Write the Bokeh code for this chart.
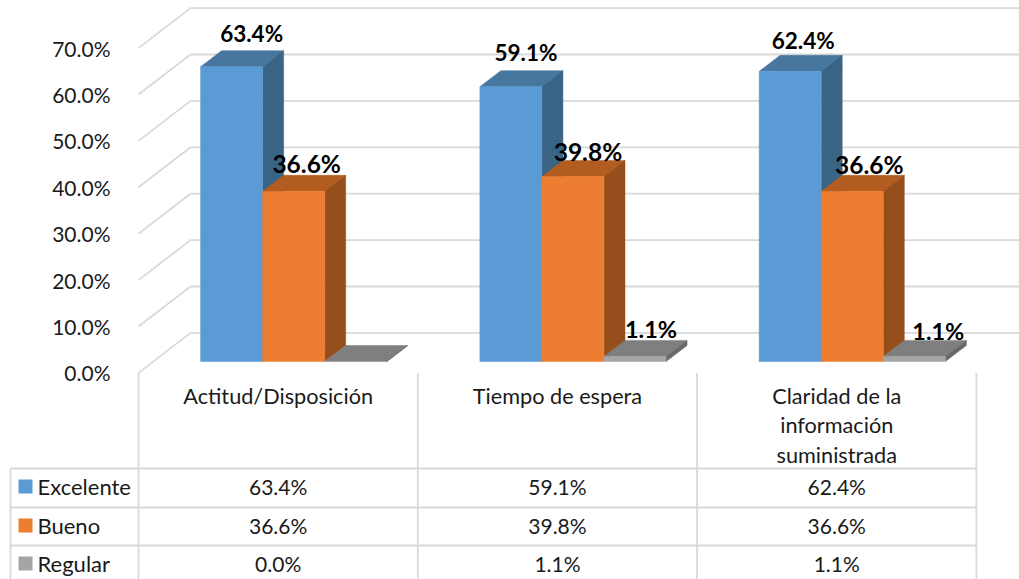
from bokeh.plotting import figure
from bokeh.models import Range1d, LinearAxis, FixedTicker, PrintfTickFormatter, ColumnDataSource
from bokeh.core.properties import value
from bokeh.embed import file_html
from bokeh.resources import INLINE

# ---------- data ----------
categories = ["Actitud/Disposición", "Tiempo de espera", "Claridad de la\ninformación\nsuministrada"]
series_names = ["Excelente", "Bueno", "Regular"]
excelente = [63.4, 59.1, 62.4]
bueno = [36.6, 39.8, 36.6]
regular = [0.0, 1.1, 1.1]
y_ticks = [0, 10, 20, 30, 40, 50, 60, 70]

# ---------- styles / layout ----------
W, H = 1019, 579
OFF = 0
FONT = "Lato"
CELL = 279.3
X0_PX = 138.0
PX_PER_PCT = 4.65
BAR_ZERO_PX = 361.0
AXIS_ZERO_PX = 372.4
AXIS_SCALE = 4.64
DEPTH_X, DEPTH_Y = 21.0 / CELL, 16.0 / PX_PER_PCT
WALL_X, WALL_Y = 52.0, 40.0 / AXIS_SCALE
GRID = "#D9D9D9"
INK = "#1a1a1a"
front = ["#5B9BD5", "#ED7D31", "#A5A5A5"]
top_c = ["#47769F", "#B35C20", "#7F7F7F"]
side_c = ["#3A6486", "#964F1C", "#696969"]
series = [excelente, bueno, regular]
R, B = OFF + W, OFF + H

p = figure(width=W, height=H, output_backend="svg", toolbar_location=None,
           x_range=Range1d((OFF - X0_PX) / CELL, (R - X0_PX) / CELL),
           y_range=Range1d((BAR_ZERO_PX - B) / PX_PER_PCT, (BAR_ZERO_PX - OFF) / PX_PER_PCT),
           x_axis_location=None, y_axis_location=None, min_border=0,
           outline_line_color=None, background_fill_color="white", border_fill_color="white")
p.grid.visible = False
p.extra_x_ranges = {"px": Range1d(OFF, R)}
p.extra_y_ranges = {"px": Range1d(B, OFF),
                    "axis": Range1d((AXIS_ZERO_PX - B) / AXIS_SCALE, (AXIS_ZERO_PX - OFF) / AXIS_SCALE)}

# walls
for t in y_ticks:
    p.line([X0_PX, X0_PX + WALL_X], [t, t + WALL_Y], x_range_name="px", y_range_name="axis",
           line_color=GRID, line_width=1.8)
    p.line([X0_PX + WALL_X, R], [t + WALL_Y, t + WALL_Y], x_range_name="px", y_range_name="axis",
           line_color=GRID, line_width=1.8)

# axis
ax = LinearAxis(y_range_name="axis", x_range_name="px", fixed_location=116,
                ticker=FixedTicker(ticks=y_ticks),
                formatter=PrintfTickFormatter(format="%.1f%%"),
                axis_line_color=None, major_tick_line_color=None, minor_tick_line_color=None,
                major_label_text_font=FONT, major_label_text_font_size="21px",
                major_label_text_color=INK, major_label_standoff=0)
p.add_layout(ax, "left")

# bars (drawn back to front, left to right)
BAR_W = 2.0 / 9.0
for s, vals in enumerate(series):
    for c, v in enumerate(vals):
        l = c + BAR_W + s * BAR_W
        r = l + BAR_W
        p.patch([l, r, r + DEPTH_X, l + DEPTH_X], [v, v, v + DEPTH_Y, v + DEPTH_Y],
                fill_color=top_c[s], line_color=top_c[s], line_width=0.5)
        p.patch([r, r + DEPTH_X, r + DEPTH_X, r], [0, DEPTH_Y, v + DEPTH_Y, v],
                fill_color=side_c[s], line_color=side_c[s], line_width=0.5)
        p.quad(left=l, right=r, bottom=0, top=v, fill_color=front[s], line_color=front[s], line_width=0.5)

# data labels
label_off_x = [[20, 15, 13], [13, 15, 17], [0, 16, 24]]
label_off_y = [[-33, -34, -31], [-28, -25, -27], [0, -27, -25]]
label_size = ["22.5px", "24.5px", "23.5px"]
for s, vals in enumerate(series):
    xs, ys, ts, ox, oy = [], [], [], [], []
    for c, v in enumerate(vals):
        if v == 0:
            continue
        xs.append(c + BAR_W * (s + 1.5)); ys.append(v); ts.append(f"{v:.1f}%")
        ox.append(label_off_x[s][c]); oy.append(label_off_y[s][c])
    src = ColumnDataSource(dict(x=xs, y=ys, t=ts, ox=ox, oy=oy))
    p.text("x", "y", text="t", source=src, x_offset="ox", y_offset="oy", text_align="center",
           text_baseline="middle", text_font=value(FONT), text_font_style="bold",
           text_font_size=label_size[s], text_color="black")

# table lines
row_y = [468, 507, 545]
TABLE_L, TABLE_R = 10, 975.5
for y in row_y:
    p.line([TABLE_L, TABLE_R], [y, y], x_range_name="px", y_range_name="px", line_color=GRID, line_width=1.8)
p.line([TABLE_L, TABLE_L], [row_y[0], B], x_range_name="px", y_range_name="px", line_color=GRID, line_width=1.8)
for i in range(4):
    xp = X0_PX + i * CELL
    p.line([xp, xp], [AXIS_ZERO_PX, B], x_range_name="px", y_range_name="px", line_color=GRID, line_width=1.8)

# category labels
for c, name in enumerate(categories):
    xp = X0_PX + (c + 0.5) * CELL
    lines = name.split("\n")
    p.text([xp] * len(lines), [395 + 29.5 * j for j in range(len(lines))], text=lines,
           x_range_name="px", y_range_name="px", text_align="center", text_baseline="middle",
           text_font=value(FONT), text_font_size="21.7px", text_color=INK)

# table rows & legend keys
row_c = [486, 525, 563]
for s, vals in enumerate(series):
    yp = row_c[s]
    p.text([X0_PX + (c + 0.5) * CELL for c in range(len(vals))], [yp] * len(vals),
           text=[f"{v:.1f}%" for v in vals], x_range_name="px", y_range_name="px",
           text_align="center", text_baseline="middle", text_font=value(FONT),
           text_font_size="21px", text_color=INK)
    p.quad(left=18, right=32, top=yp - 7, bottom=yp + 7, x_range_name="px", y_range_name="px",
           fill_color=front[s], line_color=None)
    p.text([37], [yp], text=[series_names[s]], x_range_name="px", y_range_name="px",
           text_align="left", text_baseline="middle", text_font=value(FONT),
           text_font_size="22px", text_color=INK)

open("out.html", "w").write(file_html(p, INLINE))
